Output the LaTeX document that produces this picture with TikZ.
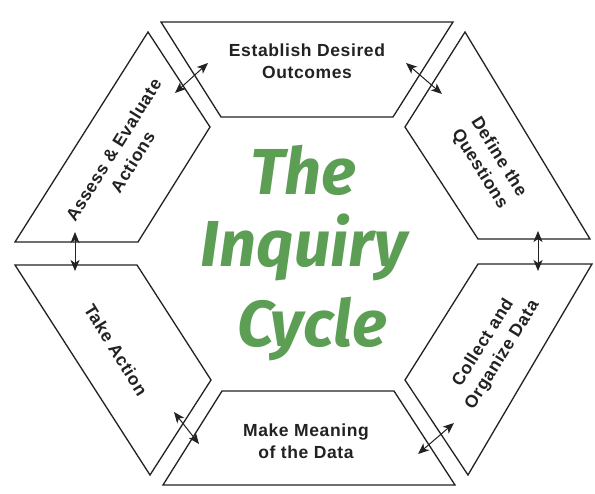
\documentclass[tikz,border=0pt]{standalone}
\usepackage{fontspec}
\setmainfont{Liberation Sans}
\newfontfamily\lblfont{Liberation Sans}[LetterSpace=3.5]
\newfontfamily\titlefont{Fira Sans}
\usetikzlibrary{arrows.meta}
\definecolor{inkgreen}{HTML}{5C9E54}
\definecolor{ink}{HTML}{222222}
\begin{document}
\begin{tikzpicture}[x=1pt,y=-1pt,
  seg/.style={draw=ink,line width=1.3pt,line join=miter},
  link/.style={draw=ink,line width=1pt,{Stealth[length=11pt,width=9pt,inset=3pt]}-{Stealth[length=11pt,width=9pt,inset=3pt]}},
  lbl/.style={text=ink,font=\lblfont\fontsize{17.5}{22.5}\selectfont\bfseries,align=center,inner sep=0pt},
  ttl/.style={text=inkgreen,font=\titlefont\fontsize{65}{76}\selectfont\bfseries\itshape,inner sep=0pt,anchor=base}]
\path[fill=white] (0,0) rectangle (595,494);
\useasboundingbox (0,0) rectangle (595,494);
% segments of the cycle
\draw[seg] (161,22) -- (453,22) -- (393,117) -- (221,117) -- cycle;
\draw[seg] (465,32) -- (590,239) -- (478,239) -- (405,127) -- cycle;
\draw[seg] (592,264) -- (468,475) -- (405,380) -- (478,264) -- cycle;
\draw[seg] (455,485) -- (163,485) -- (222,391) -- (394,391) -- cycle;
\draw[seg] (150,475) -- (15,265) -- (137,265) -- (211,380) -- cycle;
\draw[seg] (15,242) -- (148,32) -- (210,127) -- (138,242) -- cycle;
% labels
\node[lbl] (establish) at (307,61) {Establish Desired\\Outcomes};
\node[lbl] (meaning) at (306,441) {Make Meaning\\of the Data};
\node[lbl,rotate=58] (assess) at (123,156) {Assess \& Evaluate\\Actions};
\node[lbl,rotate=-58] (define) at (489,163) {Define the\\Questions};
\node[lbl,rotate=-58] (takeaction) at (116,350) {Take Action};
\node[lbl,rotate=58] (collect) at (493,349) {Collect and\\Organize Data};
% title
\node[ttl] (t1) at (303,195) {The};
\node[ttl] (t2) at (304,267) {Inquiry};
\node[ttl] (t3) at (312,347) {Cycle};
% arrow ends
\coordinate (a1) at (175,93);  \coordinate (a2) at (208,63);
\coordinate (b1) at (406,63);  \coordinate (b2) at (442,94);
\coordinate (c1) at (538,231); \coordinate (c2) at (538,271);
\coordinate (d1) at (454,423); \coordinate (d2) at (418,454);
\coordinate (e1) at (174,412); \coordinate (e2) at (199,444);
\coordinate (f1) at (75,232);  \coordinate (f2) at (75,271);
\draw[link] (a1) -- (a2);
\draw[link] (b1) -- (b2);
\draw[link] (c1) -- (c2);
\draw[link] (d1) -- (d2);
\draw[link] (e1) -- (e2);
\draw[link] (f1) -- (f2);
\end{tikzpicture}
\end{document}
